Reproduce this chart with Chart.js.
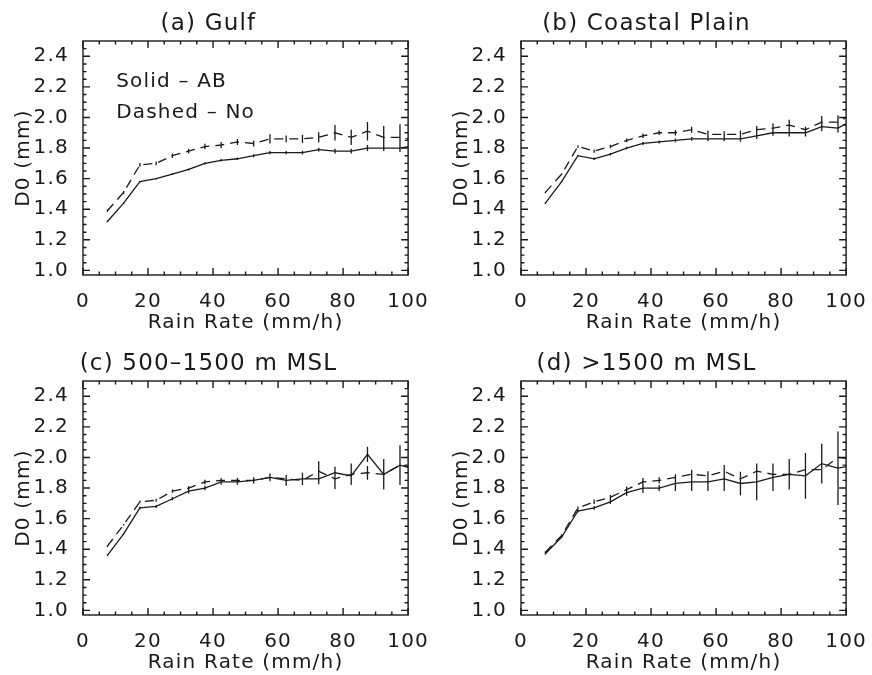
<!DOCTYPE html>
<html>
<head>
<meta charset="utf-8">
<script src="https://cdn.jsdelivr.net/npm/chart.js@4.4.1/dist/chart.umd.min.js"></script>
<style>
  body { margin: 0; background: #fff; }
  #page { position: relative; width: 872px; height: 675px; }
  .panel { position: absolute; width: 436px; height: 337px; }
</style>
</head>
<body>
<div id="page">
  <div class="panel" style="left:0;top:0"><canvas id="gulf" width="436" height="337"></canvas></div>
  <div class="panel" style="left:438px;top:0"><canvas id="coastal" width="436" height="337"></canvas></div>
  <div class="panel" style="left:0;top:340px"><canvas id="mid" width="436" height="337"></canvas></div>
  <div class="panel" style="left:438px;top:340px"><canvas id="high" width="436" height="337"></canvas></div>
</div>
<script>
// bin centres (mm/h)
const rainRate = [7.5, 12.5, 17.5, 22.5, 27.5, 32.5, 37.5, 42.5, 47.5, 52.5,
                  57.5, 62.5, 67.5, 72.5, 77.5, 82.5, 87.5, 92.5, 97.5, 102.5];

// (a) Gulf
const gulfAB = [1.32, 1.44, 1.58, 1.60, 1.63, 1.66, 1.70, 1.72, 1.73, 1.75,
                1.77, 1.77, 1.77, 1.79, 1.78, 1.78, 1.80, 1.80, 1.80, 1.82];
const gulfNo = [1.39, 1.51, 1.69, 1.70, 1.75, 1.78, 1.81, 1.82, 1.84, 1.83,
                1.86, 1.86, 1.86, 1.87, 1.90, 1.87, 1.91, 1.87, 1.87, 1.85];
const gulfErrAB = [0.005, 0.005, 0.005, 0.005, 0.005, 0.006, 0.008, 0.008, 0.008, 0.01,
                   0.01, 0.01, 0.012, 0.012, 0.015, 0.015, 0.02, 0.02, 0.025, 0.03];
const gulfErrNo = [0.008, 0.01, 0.012, 0.012, 0.015, 0.015, 0.018, 0.02, 0.02, 0.02,
                   0.03, 0.022, 0.027, 0.033, 0.05, 0.05, 0.06, 0.075, 0.085, 0.09];

// (b) Coastal Plain
const coastAB = [1.44, 1.58, 1.75, 1.73, 1.76, 1.80, 1.83, 1.84, 1.85, 1.86,
                 1.86, 1.86, 1.86, 1.88, 1.90, 1.90, 1.90, 1.94, 1.93, 1.99];
const coastNo = [1.51, 1.63, 1.81, 1.78, 1.81, 1.85, 1.88, 1.90, 1.90, 1.92,
                 1.89, 1.89, 1.89, 1.92, 1.93, 1.95, 1.92, 1.97, 1.97, 2.03];
const coastErrAB = [0.005, 0.005, 0.005, 0.008, 0.008, 0.008, 0.01, 0.01, 0.012, 0.012,
                    0.015, 0.015, 0.018, 0.02, 0.02, 0.025, 0.025, 0.03, 0.03, 0.035];
const coastErrNo = [0.005, 0.005, 0.008, 0.01, 0.012, 0.012, 0.015, 0.015, 0.018, 0.02,
                    0.025, 0.02, 0.025, 0.025, 0.03, 0.035, 0.02, 0.04, 0.045, 0.05];

// (c) 500-1500 m MSL
const midAB = [1.36, 1.50, 1.67, 1.68, 1.73, 1.78, 1.80, 1.84, 1.84, 1.85,
               1.87, 1.85, 1.86, 1.86, 1.90, 1.88, 2.02, 1.89, 1.95, 1.92];
const midNo = [1.42, 1.56, 1.71, 1.72, 1.78, 1.80, 1.84, 1.85, 1.85, 1.85,
               1.87, 1.86, 1.85, 1.91, 1.86, 1.89, 1.90, 1.89, 1.95, 1.93];
const midErrAB = [0.005, 0.005, 0.008, 0.01, 0.012, 0.015, 0.015, 0.018, 0.018, 0.02,
                  0.025, 0.035, 0.04, 0.035, 0.04, 0.05, 0.05, 0.1, 0.13, 0.12];
const midErrNo = [0.005, 0.005, 0.008, 0.01, 0.01, 0.012, 0.015, 0.015, 0.018, 0.02,
                  0.02, 0.025, 0.03, 0.066, 0.066, 0.07, 0.045, 0.05, 0.06, 0.06];

// (d) >1500 m MSL
const highAB = [1.37, 1.48, 1.65, 1.67, 1.71, 1.77, 1.80, 1.80, 1.83, 1.84,
                1.84, 1.86, 1.83, 1.84, 1.87, 1.89, 1.88, 1.96, 1.93, 1.95];
const highNo = [1.38, 1.49, 1.67, 1.71, 1.74, 1.79, 1.84, 1.85, 1.87, 1.89,
                1.88, 1.91, 1.86, 1.91, 1.89, 1.89, 1.92, 1.92, 2.00, 1.99];
const highErrAB = [0.005, 0.008, 0.01, 0.012, 0.015, 0.02, 0.033, 0.02, 0.05, 0.06,
                   0.06, 0.08, 0.077, 0.12, 0.09, 0.1, 0.15, 0.13, 0.24, 0.2];
const highErrNo = [0.005, 0.008, 0.01, 0.015, 0.015, 0.02, 0.025, 0.02, 0.02, 0.03,
                   0.03, 0.04, 0.03, 0.03, 0.03, 0.035, 0.04, 0.04, 0.05, 0.05];

const xTicks = [0, 20, 40, 60, 80, 100];
const yTicks = [1.0, 1.2, 1.4, 1.6, 1.8, 2.0, 2.2, 2.4];
const xMinorStep = 5;
const yMinorStep = 0.05;

const ink = '#1a1a1a';
const fontFamily = "'DejaVu Sans', sans-serif";
const gap = '1.2px';

// IDL-style box with inward ticks on all four sides
const idlFrame = {
  id: 'idlFrame',
  afterDraw(chart) {
    const { ctx, chartArea: a, scales: { x, y } } = chart;
    ctx.save();
    ctx.strokeStyle = ink;
    ctx.lineWidth = 1.4;
    ctx.strokeRect(a.left, a.top, a.width, a.height);
    ctx.beginPath();
    for (let v = x.min; v <= x.max + 1e-9; v += xMinorStep) {
      const len = xTicks.some(t => Math.abs(t - v) < 1e-6) ? 7 : 3.5;
      const px = x.getPixelForValue(v);
      ctx.moveTo(px, a.bottom); ctx.lineTo(px, a.bottom - len);
      ctx.moveTo(px, a.top); ctx.lineTo(px, a.top + len);
    }
    for (let v = yTicks[0]; v < y.max - 1e-9; v += yMinorStep) {
      const len = yTicks.some(t => Math.abs(t - v) < 1e-6) ? 7 : 3.5;
      const py = y.getPixelForValue(v);
      ctx.moveTo(a.left, py); ctx.lineTo(a.left + len, py);
      ctx.moveTo(a.right, py); ctx.lineTo(a.right - len, py);
    }
    ctx.stroke();
    ctx.restore();
  }
};

// vertical error bars, read from dataset.errors
const errorBars = {
  id: 'errorBars',
  afterDatasetsDraw(chart) {
    const { ctx, chartArea: a, scales: { x, y } } = chart;
    ctx.save();
    ctx.beginPath();
    ctx.rect(a.left, a.top, a.width, a.height);
    ctx.clip();
    ctx.strokeStyle = ink;
    ctx.lineWidth = 1.3;
    ctx.beginPath();
    chart.data.datasets.forEach(ds => {
      ds.data.forEach((p, i) => {
        const e = ds.errors[i];
        const px = x.getPixelForValue(p.x);
        ctx.moveTo(px, y.getPixelForValue(p.y - e));
        ctx.lineTo(px, y.getPixelForValue(p.y + e));
      });
    });
    ctx.stroke();
    ctx.restore();
  }
};

// wider IDL-like letter spacing for all text
const spacing = {
  id: 'spacing',
  beforeLayout(chart) { chart.ctx.letterSpacing = gap; },
  beforeDraw(chart) { chart.ctx.letterSpacing = gap; }
};

// "Solid - AB / Dashed - No" note inside panel (a)
const note = {
  id: 'note',
  afterDraw(chart, args, opts) {
    if (!opts.lines) return;
    const { ctx, scales: { x, y } } = chart;
    ctx.save();
    ctx.letterSpacing = gap;
    ctx.fillStyle = ink;
    ctx.font = `20px ${fontFamily}`;
    ctx.textBaseline = 'middle';
    opts.lines.forEach(l => ctx.fillText(l.text, x.getPixelForValue(l.x), y.getPixelForValue(l.y)));
    ctx.restore();
  }
};

function makePanel(id, title, ab, no, errAB, errNo, noteLines) {
  const toPts = arr => rainRate.map((r, i) => ({ x: r, y: arr[i] }));
  new Chart(document.getElementById(id), {
    type: 'line',
    data: {
      datasets: [
        { label: 'AB', data: toPts(ab), errors: errAB, borderColor: ink, borderWidth: 1.3,
          pointRadius: 0, fill: false, tension: 0, clip: 0 },
        { label: 'No', data: toPts(no), errors: errNo, borderColor: ink, borderWidth: 1.3,
          borderDash: [9, 6], pointRadius: 0, fill: false, tension: 0, clip: 0 }
      ]
    },
    options: {
      responsive: false,
      animation: false,
      devicePixelRatio: 1,
      layout: { padding: { left: 0, right: 19, top: 0, bottom: 0 } },
      plugins: {
        legend: { display: false },
        tooltip: { enabled: false },
        title: {
          display: true, text: title, color: ink,
          font: { family: fontFamily, size: 23, weight: 'normal', lineHeight: 1.2 },
          padding: { top: 10, bottom: 3.4 }
        },
        note: { lines: noteLines }
      },
      scales: {
        x: {
          type: 'linear', min: 0, max: 100,
          grid: { display: false }, border: { display: false },
          afterBuildTicks: s => { s.ticks = xTicks.map(v => ({ value: v })); },
          afterFit: s => { s.height = 62; },
          ticks: { color: ink, font: { family: fontFamily, size: 20 }, padding: 7,
                   autoSkip: false, maxRotation: 0 },
          title: { display: true, text: 'Rain Rate (mm/h)', color: ink,
                   font: { family: fontFamily, size: 20 }, padding: { top: 0, bottom: 2 } }
        },
        y: {
          type: 'linear', min: 0.97, max: 2.5,
          grid: { display: false }, border: { display: false },
          afterBuildTicks: s => { s.ticks = yTicks.map(v => ({ value: v })); },
          afterFit: s => { s.width = 83; },
          ticks: { color: ink, font: { family: fontFamily, size: 20 }, padding: 6,
                   callback: v => v.toFixed(1) },
          title: { display: true, text: 'D0 (mm)', color: ink,
                   font: { family: fontFamily, size: 20 }, padding: { top: 12, bottom: 0 } }
        }
      }
    },
    plugins: [spacing, errorBars, idlFrame, note]
  });
}

makePanel('gulf', '(a) Gulf', gulfAB, gulfNo, gulfErrAB, gulfErrNo,
  [{ text: 'Solid – AB', x: 10.2, y: 2.23 }, { text: 'Dashed – No', x: 10.2, y: 2.03 }]);
makePanel('coastal', '(b) Coastal Plain', coastAB, coastNo, coastErrAB, coastErrNo, null);
makePanel('mid', '(c) 500–1500 m MSL', midAB, midNo, midErrAB, midErrNo, null);
makePanel('high', '(d) >1500 m MSL', highAB, highNo, highErrAB, highErrNo, null);
</script>
</body>
</html>
